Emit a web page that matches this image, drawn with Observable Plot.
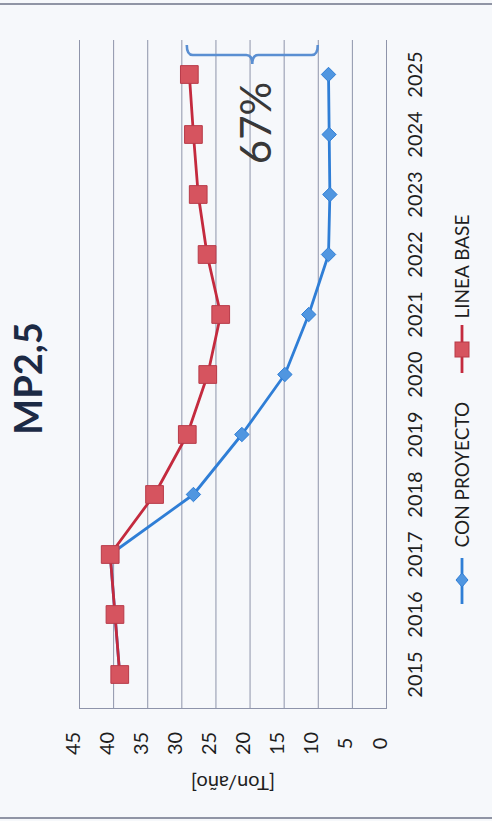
<!DOCTYPE html>
<html><head><meta charset="utf-8">
<script src="https://cdn.jsdelivr.net/npm/d3@7"></script>
<script src="https://cdn.jsdelivr.net/npm/@observablehq/plot@0.6"></script>
<style>
html,body{margin:0;padding:0;background:#f6f8fb;}
#chart{position:relative;width:492px;height:821px;overflow:hidden;}
#chart svg{display:block;}
</style></head><body><div id="chart"></div>
<script>
const years = [2015, 2016, 2017, 2018, 2019, 2020, 2021, 2022, 2023, 2024, 2025];
const lineaBase = [39.1, 39.8, 40.5, 34.0, 29.2, 26.2, 24.3, 26.3, 27.6, 28.3, 28.9];
const conProyecto = [39.1, 39.8, 40.5, 28.3, 21.2, 14.9, 11.4, 8.5, 8.3, 8.4, 8.5];
const valueTicks = [0, 5, 10, 15, 20, 25, 30, 35, 40, 45];
const seriesNames = ["CON PROYECTO", "LINEA BASE"];
const title = "MP2,5";
const axisTitle = "[Ton/año]";
const reductionLabel = "67%";
const bracketFrom = 29.2;
const bracketTo = 10.0;

const blueRows = years.map((y, i) => ({year: y, value: conProyecto[i]}));
const redRows = years.map((y, i) => ({year: y, value: lineaBase[i]}));

const FONT = "Lato, 'Open Sans', sans-serif";
const BLUE = "#2f7ed6", BLUE_FILL = "#5096e0";
const RED = "#c42a3e", RED_FILL = "#d6545f";
const GRID = "#8e94aa";
const INK = "#1e1e1e";

const plot = Plot.plot({
  width: 492, height: 821,
  marginLeft: 79, marginRight: 106, marginTop: 40, marginBottom: 113,
  style: {background: "transparent", fontFamily: FONT},
  x: {domain: [0, 45], reverse: true, axis: null},
  y: {type: "point", domain: years.slice().reverse(), padding: 0.5, axis: null},
  marks: [
    Plot.ruleX(valueTicks, {stroke: GRID, strokeWidth: 1}),
    Plot.frame({anchor: "bottom", stroke: GRID, strokeWidth: 1}),
    Plot.line(blueRows, {x: "value", y: "year", stroke: BLUE, strokeWidth: 2.8}),
    Plot.dot(blueRows, {x: "value", y: "year", symbol: "diamond2", r: 6.5, fill: BLUE_FILL, stroke: BLUE, strokeWidth: 1}),
    Plot.line(redRows, {x: "value", y: "year", stroke: RED, strokeWidth: 2.8}),
    Plot.dot(redRows, {x: "value", y: "year", symbol: "square", r: 10, fill: RED_FILL, stroke: "#b83a48", strokeWidth: 1}),
    Plot.text(valueTicks, {x: d => d, frameAnchor: "bottom", dy: 35, rotate: -90, textAnchor: "middle", text: d => String(d), fontSize: 20, fill: INK}),
    Plot.text(years, {y: d => d, frameAnchor: "right", dx: 29, rotate: -90, textAnchor: "middle", text: d => String(d), fontSize: 20, fill: INK}),
    Plot.text([axisTitle], {frameAnchor: "bottom", dy: 67, rotate: 180, textAnchor: "middle", fontSize: 20, fill: INK}),
    Plot.text([title], {frameAnchor: "left", dx: -50, dy: 4, rotate: -90, textAnchor: "middle", fontSize: 38, fontWeight: "bold", fill: "#1c2a45"}),
    Plot.text([seriesNames[0]], {frameAnchor: "right", dx: 76, dy: 173, rotate: -90, textAnchor: "start", fontSize: 19, fill: INK}),
    Plot.text([seriesNames[1]], {frameAnchor: "right", dx: 76, dy: -56, rotate: -90, textAnchor: "start", fontSize: 19, fill: INK})
  ]
});
document.getElementById("chart").appendChild(plot);

// annotations: brace + percentage, legend samples, border
const svg = d3.select(plot);
const sx = plot.scale("x");
const x1 = sx.apply(bracketFrom), x2 = sx.apply(bracketTo), xm = (x1 + x2) / 2;
const yb = 55;
svg.append("path")
  .attr("d", `M${x1},45 Q${x1},${yb} ${x1+6},${yb} L${xm-6},${yb} Q${xm},${yb} ${xm},${yb+9} Q${xm},${yb} ${xm+6},${yb} L${x2-6},${yb} Q${x2},${yb} ${x2},45`)
  .attr("fill", "none").attr("stroke", "#5a8fd2").attr("stroke-width", 2.6);
svg.append("text")
  .attr("transform", `translate(${xm + 4},123) rotate(-90)`)
  .attr("text-anchor", "middle").attr("dy", "0.35em")
  .attr("font-family", FONT).attr("font-weight", 400).attr("font-size", 42)
  .attr("fill", "#383838").text(reductionLabel);

// legend samples
const lx = 462;
svg.append("line").attr("x1", lx).attr("x2", lx).attr("y1", 558).attr("y2", 604)
  .attr("stroke", BLUE).attr("stroke-width", 2.8);
svg.append("path").attr("d", `M${lx-6},580 L${lx},573 L${lx+6},580 L${lx},587 Z`)
  .attr("fill", BLUE_FILL).attr("stroke", BLUE);
svg.append("line").attr("x1", lx).attr("x2", lx).attr("y1", 325).attr("y2", 373)
  .attr("stroke", RED).attr("stroke-width", 2.8);
svg.append("rect").attr("x", lx - 7).attr("y", 342).attr("width", 14).attr("height", 15)
  .attr("fill", RED_FILL).attr("stroke", "#b83a48");

// scan border lines
svg.append("line").attr("x1", 0).attr("x2", 492).attr("y1", 4).attr("y2", 4)
  .attr("stroke", "#6e7588").attr("stroke-width", 1.5);
svg.append("line").attr("x1", 0).attr("x2", 492).attr("y1", 818).attr("y2", 818)
  .attr("stroke", "#6e7588").attr("stroke-width", 1.5);
</script></body></html>
